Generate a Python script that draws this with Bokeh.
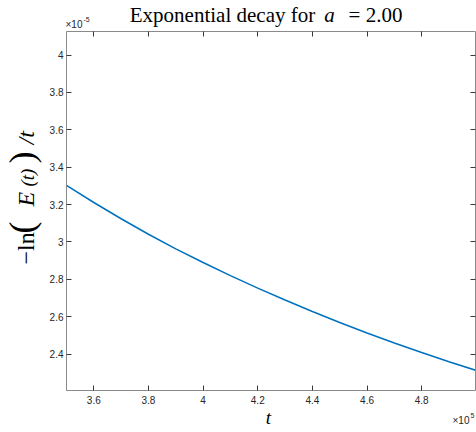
import math
from bokeh.plotting import figure
from bokeh.layouts import column, row
from bokeh.models import Label, LinearAxis, FixedTicker, CustomJSTickFormatter, Range1d
from bokeh.embed import file_html
from bokeh.resources import INLINE

# data (t in seconds, rate in 1/s)
t_values = [3.5e5, 3.6e5, 3.7e5, 3.8e5, 3.9e5, 4.0e5, 4.1e5, 4.2e5,
            4.3e5, 4.4e5, 4.5e5, 4.6e5, 4.7e5, 4.8e5, 4.9e5, 5.0e5]
rate_values = [3.303e-5, 3.211e-5, 3.124e-5, 3.041e-5, 2.963e-5, 2.890e-5,
               2.820e-5, 2.753e-5, 2.689e-5, 2.628e-5, 2.569e-5, 2.513e-5,
               2.459e-5, 2.408e-5, 2.359e-5, 2.312e-5]
x_ticks = [3.6e5, 3.8e5, 4.0e5, 4.2e5, 4.4e5, 4.6e5, 4.8e5]
y_ticks = [2.4e-5, 2.6e-5, 2.8e-5, 3.0e-5, 3.2e-5, 3.4e-5, 3.6e-5, 3.8e-5, 4.0e-5]

W = 476
TOP_H = 30            # title strip
MID_H = 377           # main plot (frame 31..390 in window + tick labels)
BOT_H = 25            # x label strip
YL_W = 44             # y label strip
AX_LINE = "#8a8a8a"
TICK = "#3a3a3a"
LBL = "#262626"


def strip(w, h):
    f = figure(width=w, height=h, x_range=Range1d(0, 1), y_range=Range1d(0, 1),
               output_backend="svg", toolbar_location=None,
               min_border=0, min_border_left=0, min_border_right=0,
               min_border_top=0, min_border_bottom=0)
    f.axis.visible = False
    f.grid.visible = False
    f.outline_line_color = None
    f.background_fill_color = "white"
    f.border_fill_color = "white"
    return f


def lab(f, h, y0, text, xs, ys, size, style="normal", font="Liberation Serif",
        align="center", angle=0.0, color="black"):
    # xs, ys in window pixels (middle of the text); strip top is at window y0, height h
    f.add_layout(Label(x=xs, y=h - (ys - y0), x_units="screen", y_units="screen",
                       text=text, text_font=font, text_font_size=f"{size}px",
                       text_font_style=style, text_align=align,
                       text_baseline="middle", angle=angle, text_color=color))


# ---- main plot ----
p = figure(width=W - YL_W, height=MID_H,
           x_range=Range1d(3.5e5, 4.997e5), y_range=Range1d(2.205e-5, 4.126e-5),
           output_backend="svg", toolbar_location=None,
           min_border_left=66 - YL_W, min_border_right=1, min_border_top=1,
           min_border_bottom=MID_H - (390 - TOP_H))
p.xgrid.visible = False
p.ygrid.visible = False
p.outline_line_color = None
p.background_fill_color = "white"
p.border_fill_color = "white"

p.line(t_values, rate_values, line_color="#0072BD", line_width=1.5)

xfmt = CustomJSTickFormatter(code="return String(Math.round(tick / 1e4) / 10);")
yfmt = CustomJSTickFormatter(code="return String(Math.round(tick * 1e6) / 10);")
blank = CustomJSTickFormatter(code="return '';")


def style_axis(ax, ticks, fmt, standoff):
    ax.ticker = FixedTicker(ticks=ticks)
    ax.formatter = fmt
    ax.axis_line_color = AX_LINE
    ax.axis_line_width = 1
    ax.major_tick_line_color = TICK
    ax.major_tick_in = 5
    ax.major_tick_out = 0
    ax.minor_tick_line_color = None
    ax.major_label_standoff = standoff
    ax.major_label_text_font = "Liberation Sans"
    ax.major_label_text_font_size = "10px"
    ax.major_label_text_color = LBL
    ax.axis_label = None


style_axis(p.xaxis[0], x_ticks, xfmt, 5)
style_axis(p.yaxis[0], y_ticks, yfmt, 3)
top = LinearAxis()
style_axis(top, x_ticks, blank, 0)
p.add_layout(top, "above")
right = LinearAxis()
style_axis(right, y_ticks, blank, 0)
p.add_layout(right, "right")

# ---- title strip ----
tf = strip(W, TOP_H)
lab(tf, TOP_H, 0, "Exponential decay for", 222, 14, 21)
lab(tf, TOP_H, 0, "a", 329, 14, 21, style="italic")
lab(tf, TOP_H, 0, "= 2.00", 375, 14, 21)
lab(tf, TOP_H, 0, "\u00d710", 65, 24, 10, font="Liberation Sans", align="left", color=LBL)
lab(tf, TOP_H, 0, "-5", 83, 19, 7, font="Liberation Sans", align="left", color=LBL)

# ---- y label strip: -ln(E(t))/t (rotated, text starts at given y) ----
yf = strip(YL_W, MID_H)
R = math.pi / 2
lab(yf, MID_H, TOP_H, "\u2212ln", 25, 281, 24, align="left", angle=R)
lab(yf, MID_H, TOP_H, "(", 21, 250, 36, align="left", angle=R)
lab(yf, MID_H, TOP_H, "E", 25, 223, 24, style="italic", align="left", angle=R)
lab(yf, MID_H, TOP_H, "(t)", 27, 203, 19, style="italic", align="left", angle=R)
lab(yf, MID_H, TOP_H, ")", 21, 180, 36, align="left", angle=R)
lab(yf, MID_H, TOP_H, "/t", 25, 161, 24, style="italic", align="left", angle=R)

# ---- x label strip ----
bf = strip(W, BOT_H)
y0b = TOP_H + MID_H
lab(bf, BOT_H, y0b, "t", 268, 417, 19, style="italic")
lab(bf, BOT_H, y0b, "\u00d710", 452, 420, 10, font="Liberation Sans", align="left", color=LBL)
lab(bf, BOT_H, y0b, "5", 470, 415, 7, font="Liberation Sans", align="left", color=LBL)

layout = column(tf, row(yf, p, spacing=0), bf, spacing=0)
open("out.html", "w").write(file_html(layout, INLINE))
